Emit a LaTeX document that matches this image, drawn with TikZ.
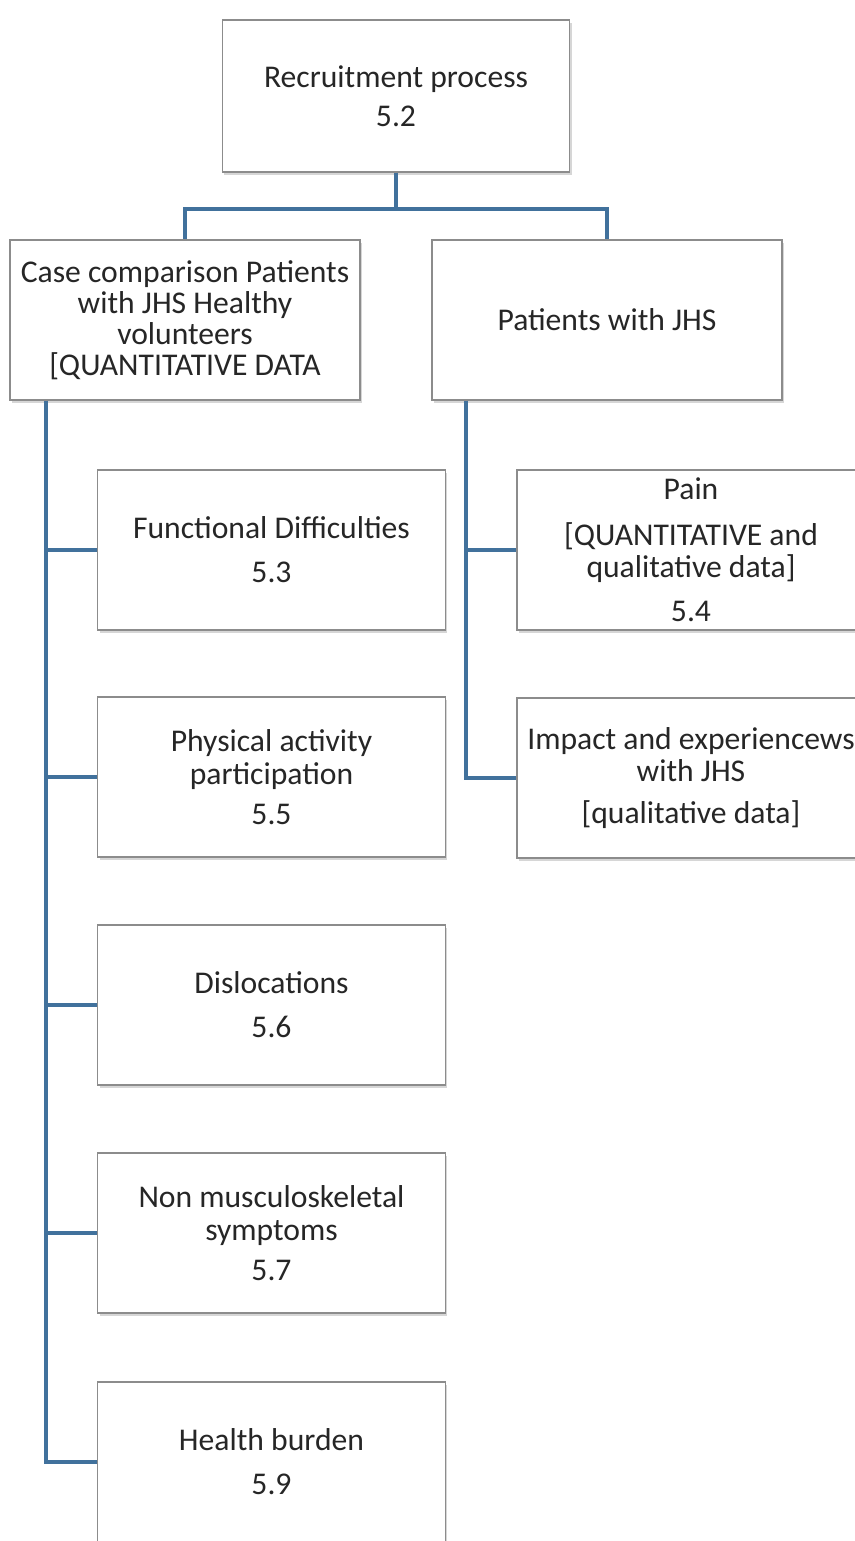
\documentclass[tikz,border=0pt]{standalone}
\usepackage{fontspec}
\setmainfont{Carlito}
\usepackage{tikz}
\usetikzlibrary{calc,shadows,positioning}
\definecolor{linkblue}{HTML}{41719C}
\definecolor{boxgrey}{HTML}{8C8C8C}
\definecolor{textgrey}{HTML}{262626}

\begin{document}
\begin{tikzpicture}[
    box/.style={rectangle, draw=boxgrey, line width=0.6pt, fill=white, inner sep=0pt,
        minimum width=6.95cm, minimum height=3.2cm, align=center, text=textgrey,
        font=\fontsize{18}{18.5}\selectfont,
        drop shadow={shadow xshift=0.4mm, shadow yshift=-0.5mm, fill=gray!70, opacity=0.45}},
    link/.style={line width=2.3pt, linkblue}
]
    \useasboundingbox (0,0) rectangle (17.1,-30.82);
    \fill[white] (0,0) rectangle (17.1,-30.82);

    % Top box
    \node[box, minimum height=3.04cm] (Rec) at (7.92,-1.92) {Recruitment process\\[3.7pt]5.2};

    % Two groups
    \node[box, minimum width=7cm, font=\fontsize{18}{17.6}\selectfont] (Case) at (3.70,-6.40)
        {Case comparison Patients\\with JHS Healthy\\volunteers\\{[}QUANTITATIVE DATA};
    \node[box, minimum width=7cm] (Pat) at (12.14,-6.40) {Patients with JHS};

    % Quantitative branch
    \node[box] (Func) at (5.43,-11.00) {Functional Difficulties\\[6.5pt]5.3};
    \node[box] (Phys) at (5.43,-15.54) {Physical activity\\participation\\[4.3pt]5.5};
    \node[box] (Disl) at (5.43,-20.10) {Dislocations\\[6.5pt]5.6};
    \node[box] (Nonm) at (5.43,-24.66) {Non musculoskeletal\\symptoms\\[4.3pt]5.7};
    \node[box] (Hlth) at (5.43,-29.24) {Health burden\\[6.5pt]5.9};

    % Patients branch
    \node[box, minimum width=6.96cm] (Pain) at (13.82,-11.00)
        {Pain\\[7.5pt]{[}QUANTITATIVE and\\qualitative data{]}\\[6.5pt]5.4};
    \node[box, minimum width=6.96cm] (Imp) at (13.82,-15.56)
        {Impact and experiencews\\with JHS\\[5.5pt]{[}qualitative data{]}};

    % Connectors from the top
    \draw[link] (Rec.south) -- ++(0,-0.72) coordinate (split);
    \draw[link] (split) -| (Case.north);
    \draw[link] (split) -| (Pat.north);

    % Left trunk
    \coordinate (ltop) at ($(Case.south west)+(0.74,0)$);
    \draw[link] (ltop) |- (Hlth.west);
    \foreach \n in {Func,Phys,Disl,Nonm}
        \draw[link] (ltop |- \n.west) -- (\n.west);

    % Right trunk
    \coordinate (rtop) at ($(Pat.south west)+(0.70,0)$);
    \draw[link] (rtop) |- (Imp.west);
    \draw[link] (rtop |- Pain.west) -- (Pain.west);

\end{tikzpicture}
\end{document}
